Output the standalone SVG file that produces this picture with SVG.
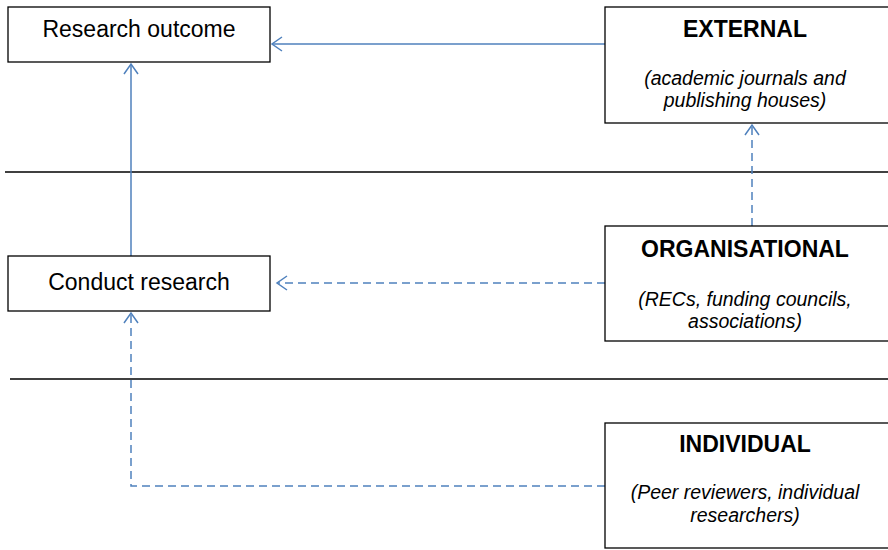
<svg xmlns="http://www.w3.org/2000/svg" width="888" height="550" viewBox="0 0 888 550">
<defs>
<style>
.box{fill:#fff;stroke:#000;stroke-width:1.3}
.sep{stroke:#000;stroke-width:1.5}
.t{font-family:"Liberation Sans",Arial,sans-serif;font-size:23px;fill:#000;text-anchor:middle}
.b{font-family:"Liberation Sans",Arial,sans-serif;font-size:23px;font-weight:bold;fill:#000;text-anchor:middle}
.i{font-family:"Liberation Sans",Arial,sans-serif;font-size:19.5px;font-style:italic;fill:#000;text-anchor:middle}
.c{fill:none;stroke:#4F81BD;stroke-width:1.5}
.d{stroke-dasharray:8 5}
</style>
<marker id="arr" markerUnits="userSpaceOnUse" markerWidth="14" markerHeight="18" refX="11" refY="9" orient="auto" viewBox="0 0 14 18">
<path d="M1,2 L11,9 L1,16" fill="none" stroke="#4F81BD" stroke-width="1.5"/>
</marker>
</defs>
<rect width="888" height="550" fill="#fff"/>
<line class="sep" x1="5" y1="172" x2="888" y2="172"/>
<line class="sep" x1="10" y1="379" x2="888" y2="379"/>
<g id="connectors">
<path class="c" d="M605,44 L272,44" marker-end="url(#arr)"/>
<path class="c" d="M131,256 L131,64" marker-end="url(#arr)"/>
<path class="c d" d="M752,226 L752,125" marker-end="url(#arr)"/>
<path class="c d" d="M605,283 L277,283" marker-end="url(#arr)"/>
<path class="c d" d="M605,486 L131,486 L131,313" marker-end="url(#arr)"/>
</g>
<g id="research-outcome">
<rect class="box" x="8" y="7" width="262" height="55"/>
<text class="t" x="139" y="37">Research outcome</text>
</g>
<g id="conduct-research">
<rect class="box" x="8" y="256" width="262" height="55"/>
<text class="t" x="139" y="290">Conduct research</text>
</g>
<g id="external">
<rect class="box" x="605" y="7" width="290" height="116"/>
<text class="b" x="745" y="37">EXTERNAL</text>
<text class="i" x="745" y="85">(academic journals and</text>
<text class="i" x="745" y="107">publishing houses)</text>
</g>
<g id="organisational">
<rect class="box" x="605" y="226" width="290" height="115"/>
<text class="b" x="745" y="257">ORGANISATIONAL</text>
<text class="i" x="745" y="306">(RECs, funding councils,</text>
<text class="i" x="745" y="328">associations)</text>
</g>
<g id="individual">
<rect class="box" x="605" y="423" width="290" height="125"/>
<text class="b" x="745" y="452">INDIVIDUAL</text>
<text class="i" x="745" y="499">(Peer reviewers, individual</text>
<text class="i" x="745" y="522">researchers)</text>
</g>
</svg>
